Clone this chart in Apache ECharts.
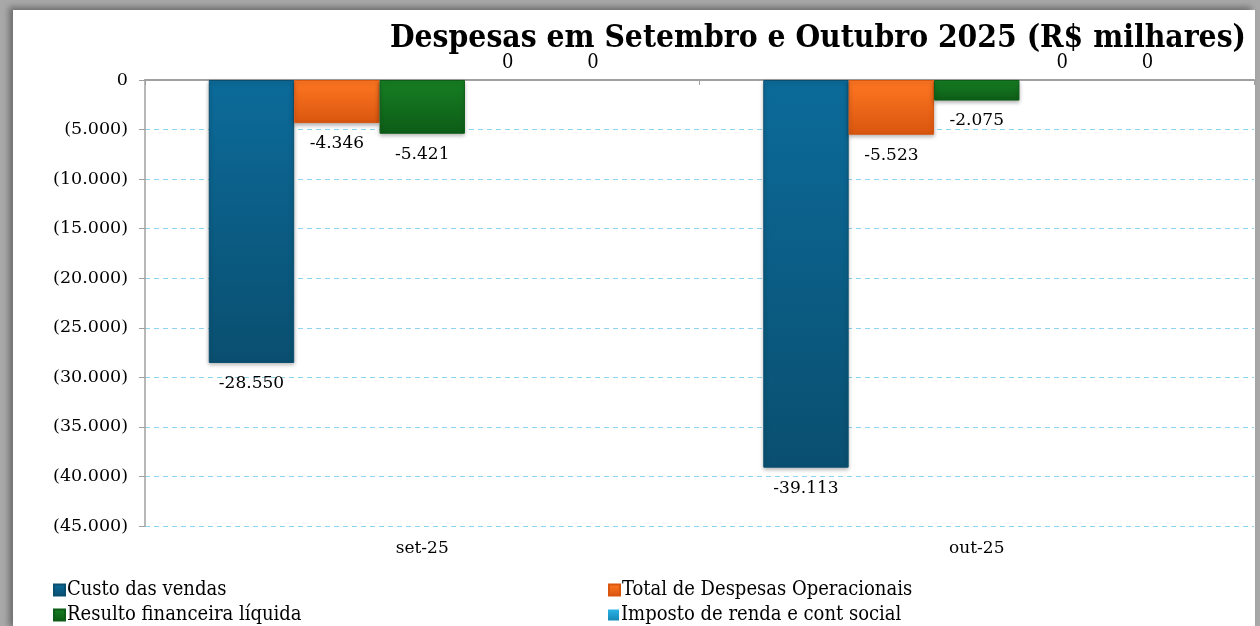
<!DOCTYPE html>
<html>
<head>
<meta charset="utf-8">
<script src="https://cdn.jsdelivr.net/npm/echarts@6/dist/echarts.min.js"></script>
<style>
    html,body{margin:0;padding:0;width:1260px;height:626px;overflow:hidden;background:#a8a8a8;}
    #frame{position:absolute;left:13px;top:10px;width:1242px;height:620px;background:#fff;
        box-shadow:-4px -3px 6px rgba(0,0,0,0.35);}
    #chart{position:absolute;left:-13px;top:-10px;width:1260px;height:626px;}
</style>
</head>
<body>
<div id="frame"><div id="chart"></div></div>
<script>
    // dados do grafico
    var categorias = ["set-25", "out-25"];
    var nomesSeries = ["Custo das vendas", "Total de Despesas Operacionais", "Resulto financeira líquida", "Imposto de renda e cont social", ""];
    var custoVendas = [-28550, -39113];
    var despesasOper = [-4346, -5523];
    var resultFinanc = [-5421, -2075];
    var impostoRenda = [0, 0];
    var outros = [0, 0];
    var yTicks = [0, -5000, -10000, -15000, -20000, -25000, -30000, -35000, -40000, -45000];

    var serifFont = "DejaVu Serif";
    var condFont = "DejaVu Serif Condensed";

    var fmtNum = function(v){
        var s = Math.abs(v).toString().replace(/\B(?=(\d{3})+(?!\d))/g, ".");
        return (v < 0 ? "-" : "") + s;
    };
    var fmtAxis = function(v){
        if(v === 0) return "0";
        var s = Math.abs(v).toString().replace(/\B(?=(\d{3})+(?!\d))/g, ".");
        return v < 0 ? "(" + s + ")" : s;
    };

    var grad = function(c1, c2){
        return new echarts.graphic.LinearGradient(0, 0, 0, 1, [
            {offset: 0, color: c1}, {offset: 1, color: c2}
        ]);
    };
    var colorList = [
        ["#0c6b9a", "#0a4f70"],
        ["#ff7722", "#d9560f"],
        ["#177f23", "#0d5c17"],
        ["#2bb4e6", "#1488b8"],
        ["#9bbb59", "#76923c"]
    ];
    var dados = [custoVendas, despesasOper, resultFinanc, impostoRenda, outros];

    var series = [];
    for(var i = 0; i < dados.length; i++){
        var zero = dados[i].every(function(v){ return v === 0; });
        series.push({
            name: nomesSeries[i],
            type: "bar",
            data: dados[i],
            barGap: "0%",
            barCategoryGap: "23%",
            itemStyle: {
                color: grad(colorList[i][0], colorList[i][1]),
                borderColor: zero ? "transparent" : colorList[i][1],
                borderWidth: zero ? 0 : 1,
                shadowColor: zero ? "transparent" : "rgba(0,0,0,0.3)",
                shadowBlur: 4,
                shadowOffsetY: 2
            },
            label: {
                show: true,
                position: zero ? "top" : "bottom",
                distance: zero ? 7 : 12,
                color: "#000",
                fontFamily: zero ? condFont : serifFont,
                fontSize: zero ? 20 : 17,
                formatter: function(p){ return fmtNum(p.value); }
            }
        });
    }

    // legenda em duas colunas
    var legendPos = [[48, 575], [603, 575], [48, 600], [603, 600]];
    var legendOrder = [0, 1, 2, 3];
    var legends = legendOrder.map(function(idx, k){
        return {
            data: [nomesSeries[idx]],
            left: legendPos[k][0], top: legendPos[k][1],
            itemWidth: 11, itemHeight: 11,
            icon: "rect",
            textStyle: {fontFamily: condFont, fontSize: 20, color: "#000", padding: [0, 0, 0, -3]}
        };
    });

    var option = {
        animation: false,
        backgroundColor: "transparent",
        title: {
            text: "Despesas em Setembro e Outubro 2025 (R$ milhares)",
            right: 9,
            top: 18,
            textStyle: {fontFamily: condFont, fontWeight: "bold", fontSize: 31.5, color: "#000"}
        },
        legend: legends,
        grid: {left: 145, right: 6, top: 80, bottom: 100, containLabel: false},
        xAxis: [
            {
                type: "category",
                data: categorias,
                position: "bottom",
                axisLine: {show: false, onZero: false},
                axisTick: {show: false},
                axisLabel: {fontFamily: serifFont, fontSize: 17, color: "#000", margin: 14}
            },
            {
                type: "category",
                data: categorias,
                position: "top",
                axisLine: {show: true, lineStyle: {color: "#a0a0a0", width: 2}},
                axisTick: {show: true, inside: true, length: 5, lineStyle: {color: "#a0a0a0"}},
                axisLabel: {show: false}
            }
        ],
        yAxis: {
            type: "value",
            min: -45000,
            max: 0,
            interval: 5000,
            axisLine: {show: true, lineStyle: {color: "#a0a0a0", width: 1.5}},
            axisTick: {show: true, length: 6, lineStyle: {color: "#a0a0a0"}},
            axisLabel: {
                fontFamily: serifFont, fontSize: 17.5, color: "#000", margin: 17,
                formatter: function(v){ return yTicks.indexOf(v) >= 0 ? fmtAxis(v) : ""; }
            },
            splitLine: {show: true, lineStyle: {color: "#8fd3f3", type: [5, 4], width: 1}}
        },
        series: series
    };

    var chart = echarts.init(document.getElementById("chart"));
    chart.setOption(option);
</script>
</body>
</html>
